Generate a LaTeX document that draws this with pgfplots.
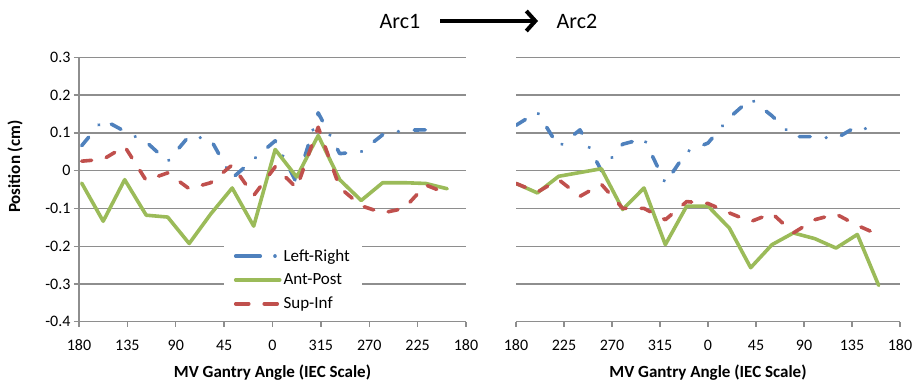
\documentclass[border=0pt]{standalone}
\usepackage{fontspec}
\setmainfont{Carlito}
\usepackage{pgfplots}
\pgfplotsset{compat=1.18}
\usetikzlibrary{arrows.meta}
\definecolor{lrblue}{HTML}{4F81BD}
\definecolor{apgreen}{HTML}{9BBB59}
\definecolor{sired}{HTML}{C0504D}
\definecolor{gridgray}{HTML}{8E8E8E}
\pgfplotsset{
  panel/.style={
    scale only axis, height=264.4pt,
    xmin=0, xmax=360, ymin=-0.4, ymax=0.3,
    xtick={0,45,90,135,180,225,270,315,360},
    ytick={-0.4,-0.3,-0.2,-0.1,0,0.1,0.2,0.3},
    ymajorgrids, major grid style={draw=gridgray, line width=1.3pt},
    axis x line=bottom, axis y line=left,
    axis line style={draw=gridgray, line width=1.3pt, -},
    tick align=outside, major tick length=5pt,
    tick style={draw=gridgray, line width=1.3pt},
    xticklabel style={font=\fontsize{16}{16}\selectfont, anchor=base, yshift=-24pt},
    yticklabel style={font=\fontsize{16}{16}\selectfont, anchor=east},
    xlabel={MV Gantry Angle (IEC Scale)},
    xlabel style={font=\bfseries\fontsize{17}{17}\selectfont, at={(axis description cs:0.5,0)}, anchor=base, yshift=-56pt},
  },
  lr/.style={draw=lrblue, line width=3.6pt, line cap=round, line join=round, dash pattern=on 11pt off 16pt on 0.01pt off 16pt},
  ap/.style={draw=apgreen, line width=3.6pt, line cap=round, line join=round},
  si/.style={draw=sired, line width=3.6pt, line cap=round, line join=round, dash pattern=on 10pt off 15pt},
}
\begin{document}
\begin{tikzpicture}
\path[use as bounding box] (-79pt,-64.3pt) rectangle (836pt,321.7pt);
\begin{axis}[panel, at={(0pt,0pt)}, anchor=south west, width=387pt,
  yticklabels={-0.4,-0.3,-0.2,-0.1,0,0.1,0.2,0.3},
  xticklabels={180,135,90,45,0,315,270,225,180},
  legend style={at={(0.374,0.158)}, anchor=west, draw=none, fill=white,
    font=\fontsize{17}{17}\selectfont, row sep=7pt, inner xsep=10pt, inner ysep=3pt,
    cells={anchor=west}},
  legend image code/.code={\draw[#1] (0pt,0pt) -- (44pt,0pt);},
]
\addplot[lr, forget plot] coordinates {(2.5,0.066) (22.5,0.135) (42.5,0.104) (62.5,0.076) (82.5,0.024) (102.5,0.092) (122.5,0.083) (142.5,-0.020) (162.5,0.030) (182.5,0.079) (202.5,-0.033) (222.5,0.153) (242.5,0.045) (262.5,0.050) (282.5,0.095) (302.5,0.107) (322.5,0.108) (333,0.128)};
\addplot[ap, forget plot] coordinates {(2.5,-0.033) (22.5,-0.134) (42.5,-0.024) (62.5,-0.118) (82.5,-0.123) (102.5,-0.193) (122.5,-0.115) (142.5,-0.046) (162.5,-0.147) (182.5,0.056) (202.5,-0.017) (222.5,0.093) (242.5,-0.024) (262.5,-0.079) (282.5,-0.032) (302.5,-0.032) (322.5,-0.034) (342.5,-0.048)};
\addplot[si, forget plot] coordinates {(2.5,0.025) (22.5,0.030) (42.5,0.064) (62.5,-0.026) (82.5,-0.006) (102.5,-0.048) (122.5,-0.032) (142.5,0.015) (162.5,-0.066) (182.5,0.010) (202.5,-0.046) (222.5,0.115) (242.5,-0.045) (262.5,-0.093) (282.5,-0.112) (302.5,-0.100) (322.5,-0.038) (333,-0.050)};
\addlegendimage{draw=lrblue, line width=3.6pt, line cap=round, dash pattern=on 24.5pt off 14.75pt on 0.01pt off 14pt}
\addlegendentry{Left-Right}
\addlegendimage{ap}
\addlegendentry{Ant-Post}
\addlegendimage{draw=sired, line width=3.6pt, line cap=round, dash pattern=on 13pt off 15.5pt}
\addlegendentry{Sup-Inf}
\end{axis}
\begin{axis}[panel, at={(437pt,0pt)}, anchor=south west, width=384pt,
  yticklabels={}, y axis line style={draw=none}, ytick style={draw=none},
  xticklabels={180,225,270,315,0,45,90,135,180},
]
\addplot[lr] coordinates {(0,0.120) (20,0.155) (40,0.063) (60,0.108) (80,0.000) (100,0.070) (120,0.085) (140,-0.033) (160,0.050) (180,0.073) (200,0.140) (220,0.190) (240,0.145) (260,0.090) (280,0.090) (300,0.085) (320,0.118) (340,0.100)};
\addplot[ap] coordinates {(0,-0.034) (20,-0.059) (40,-0.015) (60,-0.005) (80,0.005) (100,-0.103) (120,-0.046) (140,-0.196) (160,-0.094) (180,-0.094) (200,-0.152) (220,-0.257) (240,-0.196) (260,-0.165) (280,-0.180) (300,-0.205) (320,-0.169) (340,-0.304)};
\addplot[si] coordinates {(0,-0.034) (20,-0.057) (40,-0.024) (60,-0.068) (80,-0.036) (100,-0.100) (120,-0.100) (140,-0.130) (160,-0.082) (180,-0.087) (200,-0.112) (220,-0.135) (240,-0.113) (260,-0.165) (280,-0.130) (300,-0.115) (320,-0.145) (340,-0.170)};
\end{axis}
\node[font=\bfseries\fontsize{17}{17}\selectfont, rotate=90, anchor=center] at (-64pt,155pt) {Position (cm)};
\node[font=\fontsize{22}{22}\selectfont, anchor=base] at (321pt,292.7pt) {Arc1};
\node[font=\fontsize{22}{22}\selectfont, anchor=base] at (498pt,292.7pt) {Arc2};
\draw[line width=4pt, -{Straight Barb[length=9pt, width=20pt, line width=4pt]}] (361pt,300.7pt) -- (459pt,300.7pt);
\end{tikzpicture}
\end{document}
